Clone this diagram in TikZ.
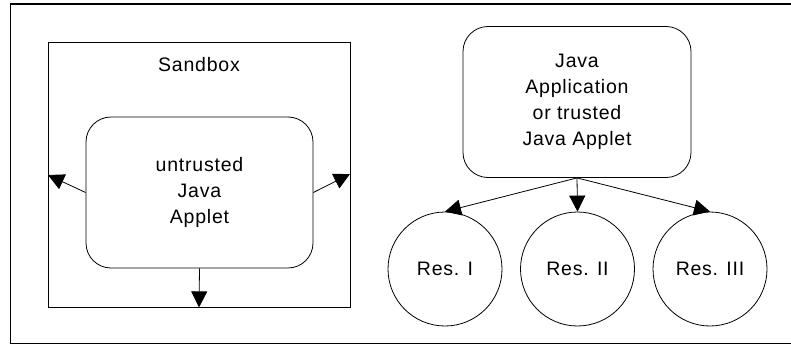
\documentclass[tikz,border=0pt]{standalone}
\usepackage{fontspec}
\setmainfont{Liberation Sans}[LetterSpace=4]
\usetikzlibrary{arrows.meta}
\begin{document}
\begin{tikzpicture}[x=1pt,y=-1pt, line width=0.8pt,
  lbl/.style={font=\fontsize{19.5}{26}\selectfont, align=center},
  rbox/.style={draw, rounded corners=25pt, lbl, inner sep=0pt},
  res/.style={draw, circle, minimum size=114pt, inner sep=0pt, lbl},
  arr/.style={-{Triangle[length=16pt,width=16pt]}}]
\useasboundingbox (0,0) rectangle (791,345);
\draw[line width=1.3pt] (10.5,4) rectangle (800,343.5);
\node[draw, minimum width=302pt, minimum height=265pt, inner sep=0pt] (sb) at (199,174.5) {};
\node[lbl] (sbl) at (199,65) {Sandbox};
\node[rbox, minimum width=227pt, minimum height=151pt] (ua) at (199.5,192.5) {untrusted\\Java\\Applet};
\coordinate (pl) at (48,175);
\coordinate (pr) at (350,174);
\draw[arr] (ua.west) -- (pl);
\draw[arr] (ua.east) -- (pr);
\draw[arr] (ua.south) -- (sb.south);
\node[rbox, minimum width=228pt, minimum height=151pt] (ja) at (577,102) {Java\\Application\\or trusted\\Java Applet};
\node[res] (r1) at (445,269) {Res. I};
\node[res] (r2) at (577.5,269) {Res. II};
\node[res] (r3) at (710,269) {Res. III};
\draw[arr] (ja.south) -- (r1.north);
\draw[arr] (ja.south) -- (r2.north);
\draw[arr] (ja.south) -- (r3.north);
\end{tikzpicture}
\end{document}
